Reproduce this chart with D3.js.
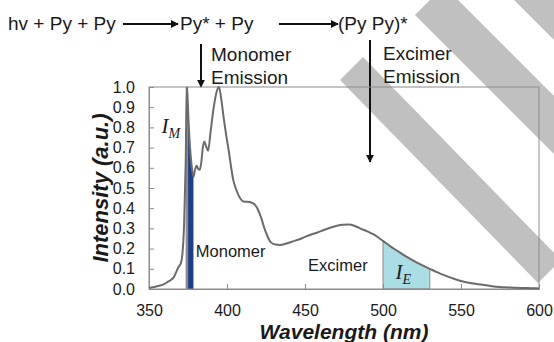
<!DOCTYPE html>
<html>
<head>
<meta charset="utf-8">
<script src="https://cdn.jsdelivr.net/npm/d3@7"></script>
<style>
  body { margin: 0; background: #fff; }
  svg { display: block; }
  text { font-family: "Liberation Sans", Arial, sans-serif; fill: #1a1a1a; }
</style>
</head>
<body>
<div id="graphic"></div>
<script>
// spectrum
const wavelength = [350, 353, 356, 359, 362, 364, 366, 367.5, 369, 370.5, 371.5, 372.5, 373.5, 374.3,
  375.3, 376.3, 377.2, 378.5, 379.5, 380.5, 381.5, 382.5, 383.5, 384.5, 385.5, 386.7, 387.9, 389.5, 391.5, 393.5, 394.8,
  396.5, 398, 399.5, 401, 402.5, 404, 406, 408, 410.5, 413, 415.5, 418, 420, 422, 424, 426, 428, 431,
  434, 438, 442, 446, 450, 454, 458, 462, 466, 470, 474, 478, 482, 486, 490, 494, 497, 500, 505, 510,
  515, 520, 525, 530, 535, 540, 545, 550, 555, 560, 565, 570, 575, 580, 585, 590, 595, 600];
const intensity = [0.005, 0.01, 0.015, 0.022, 0.035, 0.045, 0.06, 0.085, 0.11, 0.13, 0.18, 0.32, 0.62, 1.0,
  0.84, 0.7, 0.62, 0.555, 0.59, 0.61, 0.595, 0.59, 0.625, 0.7, 0.73, 0.705, 0.685, 0.78, 0.9, 0.98, 1.0,
  0.93, 0.84, 0.76, 0.69, 0.61, 0.54, 0.49, 0.455, 0.433, 0.432, 0.428, 0.416, 0.39, 0.35, 0.3, 0.26, 0.232, 0.22,
  0.218, 0.225, 0.235, 0.245, 0.258, 0.27, 0.28, 0.292, 0.303, 0.312, 0.318, 0.319, 0.312, 0.298, 0.285, 0.27, 0.255, 0.238, 0.21, 0.185,
  0.16, 0.138, 0.118, 0.1, 0.082, 0.066, 0.052, 0.04, 0.031, 0.025, 0.02, 0.014, 0.01, 0.008, 0.006, 0.005, 0.004, 0.003];
const monomerBand = [374.3, 378.5];
const excimerBand = [500, 530];
const xTicks = [350, 400, 450, 500, 550, 600];
const yTicks = [0, 0.1, 0.2, 0.3, 0.4, 0.5, 0.6, 0.7, 0.8, 0.9, 1.0];

const W = 554, H = 342;
const margin = { top: 87, right: 15, bottom: 53, left: 149 };
const width = W - margin.left - margin.right;
const height = H - margin.top - margin.bottom;

const data = wavelength.map((w, i) => ({ w: w, v: intensity[i] }));

const svg = d3.select("#graphic").append("svg")
  .attr("width", W)
  .attr("height", H);

// grey diagonal bands lying behind everything
const bands = [
  [[340, 80], [363, 57], [561, 260], [538, 283]],
  [[415, 15], [430, 0], [458, 0], [554, 96], [554, 154]],
  [[514, 0], [554, 0], [554, 40]]
];
svg.selectAll(".band")
  .data(bands)
  .enter().append("polygon")
  .attr("class", "band")
  .attr("points", d => d.map(p => p.join(",")).join(" "))
  .attr("fill", "#c0c0c0");

// reaction scheme on top
svg.append("defs").append("marker")
  .attr("id", "head")
  .attr("viewBox", "0 0 10 10")
  .attr("refX", 9).attr("refY", 5)
  .attr("markerWidth", 4).attr("markerHeight", 4)
  .attr("orient", "auto")
  .append("path").attr("d", "M0,0L10,5L0,10z").attr("fill", "#111");

const scheme = svg.append("g").style("font-size", "19px");
scheme.append("text").attr("x", 8).attr("y", 30).text("hv + Py + Py");
scheme.append("text").attr("x", 180).attr("y", 30).text("Py* + Py");
scheme.append("text").attr("x", 338).attr("y", 30).text("(Py Py)*");
scheme.append("text").attr("x", 211).attr("y", 61).text("Monomer");
scheme.append("text").attr("x", 211).attr("y", 84).text("Emission");
scheme.append("text").attr("x", 383).attr("y", 60).text("Excimer");
scheme.append("text").attr("x", 383).attr("y", 83).text("Emission");

const arrows = [
  [123, 24, 178, 24],
  [279, 24, 338, 24],
  [201, 44, 201, 87],
  [370, 40, 370, 162]
];
svg.selectAll(".arrow")
  .data(arrows)
  .enter().append("line")
  .attr("class", "arrow")
  .attr("x1", d => d[0]).attr("y1", d => d[1])
  .attr("x2", d => d[2]).attr("y2", d => d[3])
  .attr("stroke", "#111")
  .attr("stroke-width", 2)
  .attr("marker-end", "url(#head)");

const g = svg.append("g")
  .attr("transform", "translate(" + margin.left + "," + margin.top + ")");

const x = d3.scaleLinear().domain([350, 600]).range([0, width]);
const y = d3.scaleLinear().domain([0, 1]).range([height, 0]);

const area = d3.area()
  .x(d => x(d.w))
  .y0(y(0))
  .y1(d => y(d.v));

// integrated regions
g.append("path")
  .datum(data.filter(d => d.w >= excimerBand[0] && d.w <= excimerBand[1]))
  .attr("d", area)
  .attr("fill", "#abdde4")
  .attr("stroke", "#8a8a8a")
  .attr("stroke-width", 1);

g.append("path")
  .datum(data.filter(d => d.w >= monomerBand[0] && d.w <= monomerBand[1]))
  .attr("d", area)
  .attr("fill", "#1f3f8c");

g.append("line")
  .attr("x1", x(monomerBand[0])).attr("x2", x(monomerBand[0]))
  .attr("y1", y(0)).attr("y2", y(1))
  .attr("stroke", "#8c8c8c")
  .attr("stroke-width", 2.5);

// frame
g.append("rect")
  .attr("width", width)
  .attr("height", height)
  .attr("fill", "none")
  .attr("stroke", "#8c8c8c")
  .attr("stroke-width", 1);

// axes with inward ticks
const xAxis = g.append("g")
  .attr("transform", "translate(0," + height + ")")
  .call(d3.axisBottom(x).tickValues(xTicks).tickSize(-5).tickPadding(16).tickSizeOuter(0));
const yAxis = g.append("g")
  .call(d3.axisLeft(y).tickValues(yTicks).tickFormat(d3.format(".1f")).tickSize(-5).tickPadding(14).tickSizeOuter(0));

[xAxis, yAxis].forEach(a => {
  a.select(".domain").attr("stroke", "#8c8c8c");
  a.selectAll(".tick line").attr("stroke", "#8c8c8c");
  a.selectAll(".tick text")
    .style("font-family", '"Liberation Sans", Arial, sans-serif')
    .style("font-size", "16px")
    .attr("fill", "#1a1a1a");
});

// spectrum
g.append("path")
  .datum(data)
  .attr("d", d3.line().x(d => x(d.w)).y(d => y(d.v)).curve(d3.curveMonotoneX))
  .attr("fill", "none")
  .attr("stroke", "#6b6b6b")
  .attr("stroke-width", 2);

// labels inside the plot
g.append("text").attr("x", x(380)).attr("y", y(0.16)).style("font-size", "16.5px").text("Monomer");
g.append("text").attr("x", x(452)).attr("y", y(0.09)).style("font-size", "16.5px").text("Excimer");

const im = g.append("text").attr("x", x(358)).attr("y", y(0.77))
  .style("font-family", '"Liberation Serif", "DejaVu Serif", serif').style("font-style", "italic").style("font-size", "21px");
im.append("tspan").text("I");
im.append("tspan").attr("dy", 5).style("font-size", "14px").text("M");

const ie = g.append("text").attr("x", x(508)).attr("y", y(0.05))
  .style("font-family", '"Liberation Serif", "DejaVu Serif", serif').style("font-style", "italic").style("font-size", "21px");
ie.append("tspan").text("I");
ie.append("tspan").attr("dy", 5).style("font-size", "14px").text("E");

// axis titles
svg.append("text")
  .attr("x", margin.left + width / 2)
  .attr("y", 339)
  .attr("text-anchor", "middle")
  .style("font-size", "21px").style("font-weight", "bold").style("font-style", "italic")
  .text("Wavelength (nm)");

svg.append("text")
  .attr("transform", "translate(108," + (margin.top + height / 2) + ") rotate(-90)")
  .attr("text-anchor", "middle")
  .style("font-size", "22px").style("font-weight", "bold").style("font-style", "italic")
  .text("Intensity (a.u.)");
</script>
</body>
</html>
